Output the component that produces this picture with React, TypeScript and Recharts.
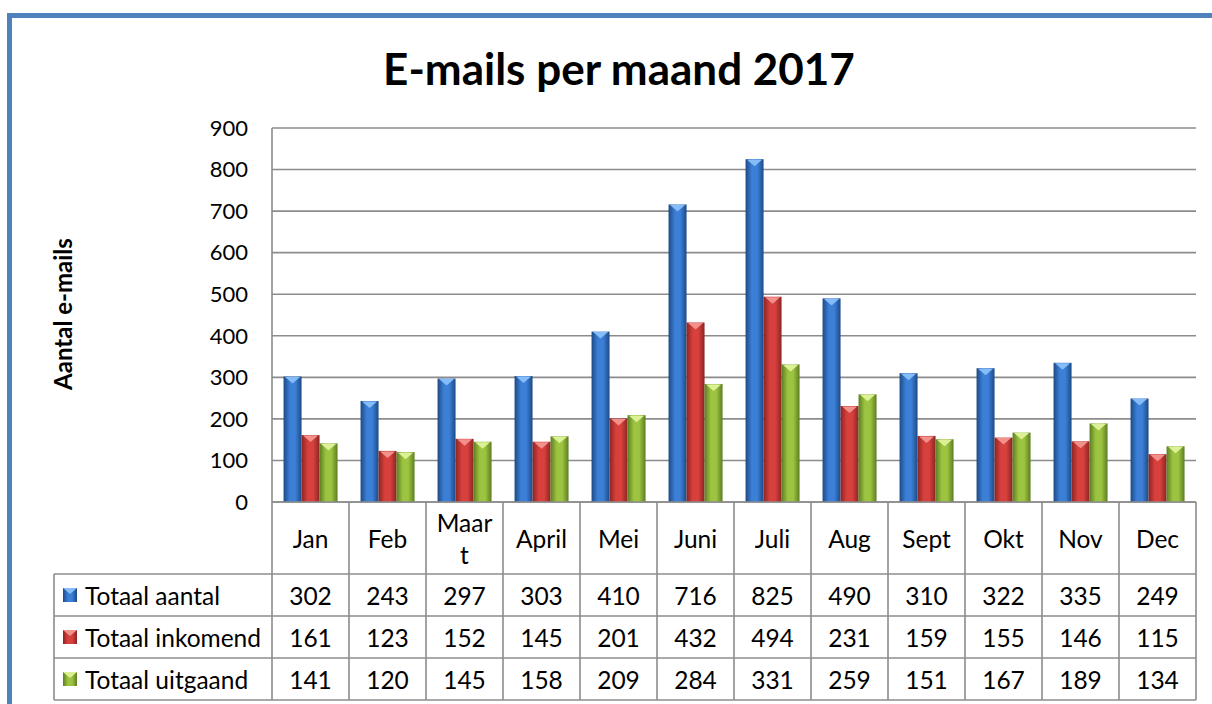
import React from "react";
import { BarChart, Bar, XAxis, YAxis, CartesianGrid } from "recharts";

const categories = ["Jan", "Feb", "Maart", "April", "Mei", "Juni", "Juli", "Aug", "Sept", "Okt", "Nov", "Dec"];
const categoryLabels = ["Jan", "Feb", "Maar\nt", "April", "Mei", "Juni", "Juli", "Aug", "Sept", "Okt", "Nov", "Dec"];
const totaalAantal = [302, 243, 297, 303, 410, 716, 825, 490, 310, 322, 335, 249];
const totaalInkomend = [161, 123, 152, 145, 201, 432, 494, 231, 159, 155, 146, 115];
const totaalUitgaand = [141, 120, 145, 158, 209, 284, 331, 259, 151, 167, 189, 134];
const seriesNames = ["Totaal aantal", "Totaal inkomend", "Totaal uitgaand"];
const yTicks = [0, 100, 200, 300, 400, 500, 600, 700, 800, 900];

const FONT = "Lato, 'Liberation Sans', sans-serif";
const GRID = "#8c8c8c";

const palettes = [
  { edge: "#1d4a86", mid: "#3b7fd6", light: "#86bcf7", key: "blue" },
  { edge: "#8a2523", mid: "#d8403d", light: "#f2918c", key: "red" },
  { edge: "#5d7d22", mid: "#9cc440", light: "#dcf095", key: "green" },
];

const data = categories.map((c, i) => ({
  name: c,
  label: categoryLabels[i],
  a: totaalAantal[i],
  b: totaalInkomend[i],
  c: totaalUitgaand[i],
}));

const seriesValues = [totaalAantal, totaalInkomend, totaalUitgaand];

const makeShape = (p: number) => (props: any) => {
  const { x, y, width, height } = props;
  if (!height || height <= 0) return null;
  const pal = palettes[p];
  const tri = Math.min(7, height);
  return (
    <g>
      <rect x={x} y={y} width={width} height={height} fill={`url(#grad-${pal.key})`} />
      <polygon
        points={`${x + 1.5},${y + 0.5} ${x + width - 1.5},${y + 0.5} ${x + width / 2},${y + tri}`}
        fill={pal.light}
      />
    </g>
  );
};

const ROW_H = 42;
const HEAD_H = 72;
const TFS = 24.5;

const TableTick = (props: any) => {
  const { x, y, index, payload, bandWidth } = props;
  const bw = bandWidth;
  const left = x - bw / 2;
  const label: string = categoryLabels[index] ?? payload.value;
  const lines = label.split("\n");
  const total = HEAD_H + ROW_H * 3;
  return (
    <g>
      <line x1={left + bw} y1={y} x2={left + bw} y2={y + total} stroke={GRID} strokeWidth={1.6} />
      {index === 0 && <line x1={left} y1={y} x2={left} y2={y + total} stroke={GRID} strokeWidth={1.6} />}
      {[0, 1, 2, 3].map((r) => (
        <line
          key={r}
          x1={left}
          x2={left + bw}
          y1={y + HEAD_H + ROW_H * r}
          y2={y + HEAD_H + ROW_H * r}
          stroke={GRID}
          strokeWidth={1.6}
        />
      ))}
      <text
        x={x}
        y={y + HEAD_H / 2 - (lines.length - 1) * 16}
        textAnchor="middle"
        dominantBaseline="central"
        fontFamily={FONT}
        fontSize={TFS}
        fill="#000"
      >
        {lines.map((l, k) => (
          <tspan key={k} x={x} dy={k === 0 ? 0 : 32}>
            {l}
          </tspan>
        ))}
      </text>
      {seriesValues.map((vals, r) => (
        <text
          key={r}
          x={x}
          y={y + HEAD_H + ROW_H * r + ROW_H / 2}
          textAnchor="middle"
          dominantBaseline="central"
          fontFamily={FONT}
          fontSize={TFS}
          fill="#000"
        >
          {vals[index]}
        </text>
      ))}
      {index === 0 && (
        <g>
          {[0, 1, 2, 3].map((r) => (
            <line
              key={r}
              x1={54}
              x2={left}
              y1={y + HEAD_H + ROW_H * r}
              y2={y + HEAD_H + ROW_H * r}
              stroke={GRID}
              strokeWidth={1.6}
            />
          ))}
          <line x1={54} x2={54} y1={y + HEAD_H} y2={y + total} stroke={GRID} strokeWidth={1.6} />
          {seriesNames.map((n, r) => {
            const cy = y + HEAD_H + ROW_H * r + ROW_H / 2;
            const pal = palettes[r];
            return (
              <g key={n}>
                <rect x={63} y={cy - 7} width={14} height={14} fill={`url(#grad-${pal.key})`} />
                <polygon points={`${63},${cy - 7} ${77},${cy - 7} ${70},${cy - 1}`} fill={pal.light} />
                <text
                  x={85}
                  y={cy}
                  dominantBaseline="central"
                  fontFamily={FONT}
                  fontSize={TFS}
                  fill="#000"
                >
                  {n}
                </text>
              </g>
            );
          })}
        </g>
      )}
    </g>
  );
};

export default function App() {
  return (
    <div style={{ position: "absolute", left: 0, top: 0, width: 1212, height: 704, overflow: "hidden", background: "#fff" }}>
      <svg width={1212} height={704} style={{ position: "absolute", left: 0, top: 0 }}>
        <rect x={9.5} y={15.5} width={1300} height={800} fill="none" stroke="#4f81bd" strokeWidth={5} />
        <text x={619} y={68} textAnchor="middle" dominantBaseline="central" fontFamily={FONT} fontWeight={700} fontSize={44} fill="#000">
          E-mails per maand 2017
        </text>
        <text
          x={62}
          y={314}
          textAnchor="middle"
          dominantBaseline="central"
          fontFamily={FONT}
          fontWeight={700}
          fontSize={24}
          fill="#000"
          transform="rotate(-90 62 314)"
        >
          Aantal e-mails
        </text>
      </svg>
      <div style={{ position: "absolute", left: 0, top: 0 }}>
        <BarChart
          width={1212}
          height={704}
          data={data}
          margin={{ top: 128, right: 16, left: 212, bottom: 4 }}
          barCategoryGap="15%"
          barGap={0}
        >
          <defs>
            {palettes.map((p) => (
              <linearGradient key={p.key} id={`grad-${p.key}`} x1="0" y1="0" x2="1" y2="0">
                <stop offset="0%" stopColor={p.edge} />
                <stop offset="35%" stopColor={p.mid} />
                <stop offset="65%" stopColor={p.mid} />
                <stop offset="100%" stopColor={p.edge} />
              </linearGradient>
            ))}
          </defs>
          <CartesianGrid vertical={false} stroke={GRID} strokeWidth={1.6} />
          <YAxis
            width={60}
            domain={[0, 900]}
            ticks={yTicks}
            interval={0}
            tickLine={false}
            tickSize={0}
            tickMargin={24}
            axisLine={{ stroke: GRID, strokeWidth: 1.6 }}
            tick={{ fontFamily: FONT, fontSize: 22, fill: "#000" }}
          />
          <XAxis
            dataKey="name"
            height={198}
            interval={0}
            tickLine={false}
            tickSize={0}
            tickMargin={0}
            axisLine={{ stroke: GRID, strokeWidth: 1.6 }}
            tick={(p: any) => <TableTick {...p} bandWidth={(1212 - 272 - 16) / categories.length} />}
          />
          <Bar dataKey="a" isAnimationActive={false} shape={makeShape(0)} />
          <Bar dataKey="b" isAnimationActive={false} shape={makeShape(1)} />
          <Bar dataKey="c" isAnimationActive={false} shape={makeShape(2)} />
        </BarChart>
      </div>
    </div>
  );
}
